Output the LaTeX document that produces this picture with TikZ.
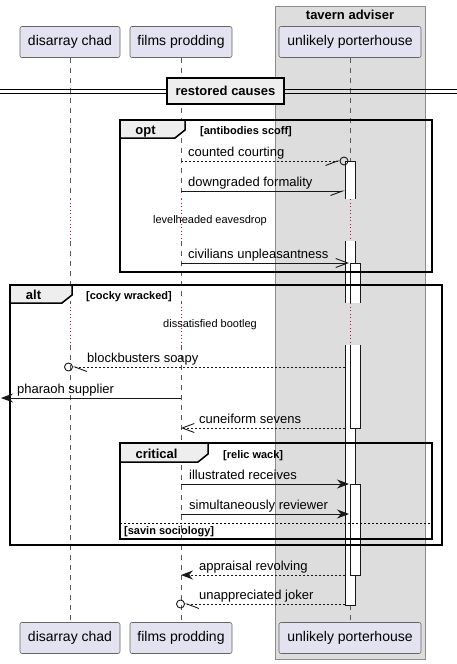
\documentclass[tikz,border=0pt]{standalone}
\usepackage{fontspec}
\setmainfont{Liberation Sans}
\usetikzlibrary{arrows.meta, positioning}
\definecolor{partfill}{HTML}{E2E2F0}
\definecolor{inkgray}{HTML}{181818}
\definecolor{boxfill}{HTML}{DDDDDD}
\definecolor{tabfill}{HTML}{EEEEEE}
\definecolor{delayred}{HTML}{C0103F}
\tikzset{party/.style = {draw=black!60, fill=partfill, rounded corners=2pt, line width=0.6pt, inner sep=0pt, minimum height=31pt, font=\fontsize{14}{16}\selectfont},
	lifeline/.style = {draw=black!65, line width=0.6pt, dash pattern=on 5pt off 5pt},
	delayline/.style = {draw=delayred, line width=1pt, dash pattern=on 1pt off 2.5pt},
	msg/.style = {draw=inkgray, line width=0.9pt},
	reply/.style = {msg, dash pattern=on 2pt off 2pt},
	msgtext/.style = {anchor=base west, inner sep=0pt},
	bar/.style = {fill=white, draw=inkgray, line width=0.9pt},
	frame/.style = {draw=black, line width=1.5pt},
	tablabel/.style = {anchor=base, inner sep=0pt, font=\fontsize{13}{15}\selectfont\bfseries},
	condlabel/.style = {anchor=base west, inner sep=0pt, font=\fontsize{11}{13}\selectfont\bfseries},
	delaytext/.style = {inner sep=0pt, font=\fontsize{11}{13}\selectfont},
	circ/.style = {circle, draw=inkgray, line width=0.9pt, minimum size=8pt, inner sep=0pt}}
\newcommand{\fullTip}{{Stealth[length=12pt,width=9pt,inset=4pt]}}
\newcommand{\openTip}{{Straight Barb[length=12pt,width=9pt]}}
\newcommand{\halfTip}{{Straight Barb[length=12pt,width=9pt,right]}}
\newcommand{\halfTipL}{{Straight Barb[length=12pt,width=9pt,left]}}

\begin{document}
\begin{tikzpicture}[x=1pt, y=-1pt, font=\fontsize{13}{15}\selectfont]
	\def\xC{70}
	\def\xF{181}
	\def\xP{350}
	\useasboundingbox (0,0) rectangle (457,664);
	
	% box round the third participant
	\filldraw[fill=boxfill, draw=black!45, line width=0.8pt]	(275,6) rectangle (425,659);
	\node[font=\fontsize{13}{15}\selectfont\bfseries] (boxtitle) at (350,15) {tavern adviser};
	
	\node[party, minimum width=100pt] (chad-top) at (\xC,42) {disarray chad};
	\node[party, minimum width=102pt] (films-top) at (\xF,42) {films prodding};
	\node[party, minimum width=142pt] (porter-top) at (\xP,42) {unlikely porterhouse};
	\node[party, minimum width=100pt] (chad-bot) at (\xC,638) {disarray chad};
	\node[party, minimum width=102pt] (films-bot) at (\xF,638) {films prodding};
	\node[party, minimum width=142pt] (porter-bot) at (\xP,638) {unlikely porterhouse};
	
	\foreach \p in {chad, films, porter} {
		\draw[lifeline]	(\p-top.south) -- (\p-top.south |- 0,199);
		\draw[delayline]	(\p-top.south |- 0,199) -- (\p-top.south |- 0,241);
		\draw[lifeline]	(\p-top.south |- 0,241) -- (\p-top.south |- 0,303);
		\draw[delayline]	(\p-top.south |- 0,303) -- (\p-top.south |- 0,345);
		\draw[lifeline]	(\p-top.south |- 0,345) -- (\p-bot.north);
	}
	
	% divider
	\draw[line width=1pt]	(0,89.5) -- (457,89.5) (0,93.5) -- (457,93.5);
	\node[draw=black, line width=2pt, fill=tabfill, minimum width=117pt, minimum height=26pt, inner sep=0pt, font=\fontsize{13}{15}\selectfont\bfseries] (divider) at (225.5,91) {restored causes};
	
	% activation bars
	\filldraw[bar]	(345,199) -- (345,161) -- (355,161) -- (355,199);
	\fill[white]	(345,241) rectangle (355,303);
	\draw[bar]	(345,241) -- (345,303) (355,241) -- (355,303);
	\filldraw[bar]	(345,345) -- (345,605) -- (355,605) -- (355,345);
	\filldraw[bar]	(350,303) -- (350,263) -- (360,263) -- (360,303);
	\filldraw[bar]	(350,345) -- (350,428) -- (360,428) -- (360,345);
	\filldraw[bar]	(350,484) rectangle (360,575);
	
	% frames
	\draw[frame]	(120,120) rectangle (432,272);
	\filldraw[frame, fill=tabfill]	(120,120) -- (185,120) -- (185,130) -- (175,138) -- (120,138) -- cycle;
	\node[tablabel] (opt) at (145.5,134) {opt};
	\node[condlabel] (optcond) at (200,134) {[antibodies scoff]};
	
	\draw[frame]	(10,285) rectangle (442,545);
	\filldraw[frame, fill=tabfill]	(10,285) -- (72,285) -- (72,295) -- (62,303) -- (10,303) -- cycle;
	\node[tablabel] (alt) at (33.5,299.5) {alt};
	\node[condlabel] (altcond) at (86,299.5) {[cocky wracked]};
	
	\draw[frame]	(120,443) rectangle (432,539);
	\filldraw[frame, fill=tabfill]	(120,443) -- (208,443) -- (208,454) -- (198,462) -- (120,462) -- cycle;
	\node[tablabel] (critical) at (156.5,458.5) {critical};
	\node[condlabel] (critcond) at (223,458.5) {[relic wack]};
	\draw[line width=0.9pt, dash pattern=on 2pt off 2pt]	(120,523) -- (432,523);
	\node[condlabel] (elsecond) at (124,534) {[savin sociology]};
	
	% delays
	\node[delaytext] (delay1) at (210,221) {levelheaded eavesdrop};
	\node[delaytext] (delay2) at (210,325) {dissatisfied bootleg};
	
	% messages
	\coordinate (m1a) at (\xF,161);	\coordinate (m1b) at (340,161);
	\draw[reply, -\halfTip]	(m1a) -- (m1b);
	\node[circ] (m1o) at (344,161) {};
	\node[msgtext] (m1t) at (188,156.5) {counted courting};
	
	\coordinate (m2a) at (\xF,191);	\coordinate (m2b) at (345,191);
	\draw[msg, -\halfTip]	(m2a) -- (m2b);
	\node[msgtext] (m2t) at (188,186.5) {downgraded formality};
	
	\coordinate (m3a) at (\xF,263);	\coordinate (m3b) at (349,263);
	\draw[msg, -\openTip]	(m3a) -- (m3b);
	\node[msgtext] (m3t) at (188,258.5) {civilians unpleasantness};
	
	\coordinate (m4a) at (345,367);	\coordinate (m4b) at (72.5,367);
	\draw[reply, -\halfTipL]	(m4a) -- (m4b);
	\node[circ] (m4o) at (68.5,367) {};
	\node[msgtext] (m4t) at (87,362.5) {blockbusters soapy};
	
	\coordinate (m5a) at (\xF,398);	\coordinate (m5b) at (1,398);
	\draw[msg, -\fullTip]	(m5a) -- (m5b);
	\node[msgtext] (m5t) at (17,393.5) {pharaoh supplier};
	
	\coordinate (m6a) at (345,428);	\coordinate (m6b) at (\xF,428);
	\draw[reply, -\openTip]	(m6a) -- (m6b);
	\node[msgtext] (m6t) at (199,423.5) {cuneiform sevens};
	
	\coordinate (m7a) at (\xF,484);	\coordinate (m7b) at (349,484);
	\draw[msg, -\fullTip]	(m7a) -- (m7b);
	\node[msgtext] (m7t) at (189,479.5) {illustrated receives};
	
	\coordinate (m8a) at (\xF,514);	\coordinate (m8b) at (349,514);
	\draw[msg, -\fullTip]	(m8a) -- (m8b);
	\node[msgtext] (m8t) at (189,509.5) {simultaneously reviewer};
	
	\coordinate (m9a) at (345,575);	\coordinate (m9b) at (\xF,575);
	\draw[reply, -\fullTip]	(m9a) -- (m9b);
	\node[msgtext] (m9t) at (199,570.5) {appraisal revolving};
	
	\coordinate (m10a) at (345,604);	\coordinate (m10b) at (184.5,604);
	\draw[reply, -\halfTipL]	(m10a) -- (m10b);
	\node[circ] (m10o) at (180.5,604) {};
	\node[msgtext] (m10t) at (199,599.5) {unappreciated joker};
\end{tikzpicture}
\end{document}
